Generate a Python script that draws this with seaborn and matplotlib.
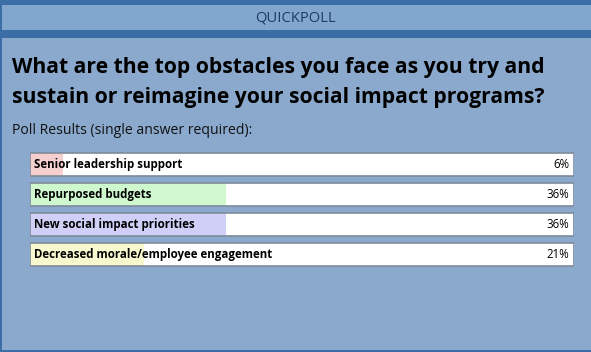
import matplotlib
matplotlib.use("Agg")
import matplotlib.pyplot as plt
import seaborn as sns
import pandas as pd
from matplotlib.patches import Rectangle

# poll data
options = ["Senior leadership support", "Repurposed budgets",
           "New social impact priorities", "Decreased morale/employee engagement"]
percents = [6, 36, 36, 21]
total = 100
fill_colors = ["#ffc8c8", "#c8ffc8", "#c8c8ff", "#ffffc8"]

header_text = "QUICKPOLL"
question_lines = ["What are the top obstacles you face as you try and",
                  "sustain or reimagine your social impact programs?"]
subtitle = "Poll Results (single answer required):"

W, H = 591, 352
DARK = "#3b6ea6"
BAND = "#82a7cd"
MAIN = "#8aa9cc"

sns.set_theme(style="white")
plt.rcParams["font.family"] = ["Open Sans", "DejaVu Sans"]

fig = plt.figure(figsize=(W / 100, H / 100), dpi=100)
fig.patch.set_facecolor(MAIN)
fig.patch.set_linewidth(0)


def px_rect(x, y, w, h, color):
    # rectangle given in pixel coords from the top-left corner
    fig.patches.append(Rectangle((x / W, 1 - (y + h) / H), w / W, h / H,
                                 transform=fig.transFigure, facecolor=color,
                                 linewidth=0, zorder=0))


px_rect(0, 0, W, 38, DARK)
px_rect(0, 5, W, 25, BAND)
px_rect(0, 0, 2, H, DARK)
px_rect(0, H - 2, W, 2, DARK)

fig.text(295 / W, 1 - 17.5 / H, header_text, ha="center", va="center",
         fontsize=10.6, color="#1e3a66")
for k, line in enumerate(question_lines):
    fig.text(12 / W, 1 - (73 + 30 * k) / H, line, ha="left", va="baseline",
             fontsize=15.2, fontweight="bold", color="black")
fig.text(12 / W, 1 - 133.5 / H, subtitle, ha="left", va="baseline",
         fontsize=10.1, color="#111111")

# axes: bars at 30..574 px, rows 30 px apart starting at 149.5 px
ax = fig.add_axes([30 / W, 1 - 269.5 / H, 544 / W, 120 / H])
ax.set_facecolor("none")

df = pd.DataFrame({"option": options, "pct": percents, "total": [total] * len(options)})
bw = 23 / 30

sns.barplot(data=df, x="total", y="option", orient="h", color="white",
            width=bw, linewidth=0, ax=ax)
sns.barplot(data=df, x="pct", y="option", orient="h", hue="option",
            palette=fill_colors, legend=False, width=bw, linewidth=0, ax=ax)
sns.barplot(data=df, x="total", y="option", orient="h", fill=False,
            edgecolor="#7f8a99", width=bw, linewidth=1.2, ax=ax)

ax.set_xlim(0, total)
ax.set_ylim(3.5, -0.5)
for i, (opt, p) in enumerate(zip(options, percents)):
    ax.text(0.75, i, opt, ha="left", va="center", fontsize=8.3,
            fontweight="bold", color="black")
    ax.text(total - 0.8, i, f"{p}%", ha="right", va="center", fontsize=8.3,
            color="black")

ax.set_xlabel("")
ax.set_ylabel("")
ax.set_xticks([])
ax.set_yticks([])
for s in ax.spines.values():
    s.set_visible(False)

fig.savefig("out.png", dpi=100, facecolor=fig.get_facecolor())
